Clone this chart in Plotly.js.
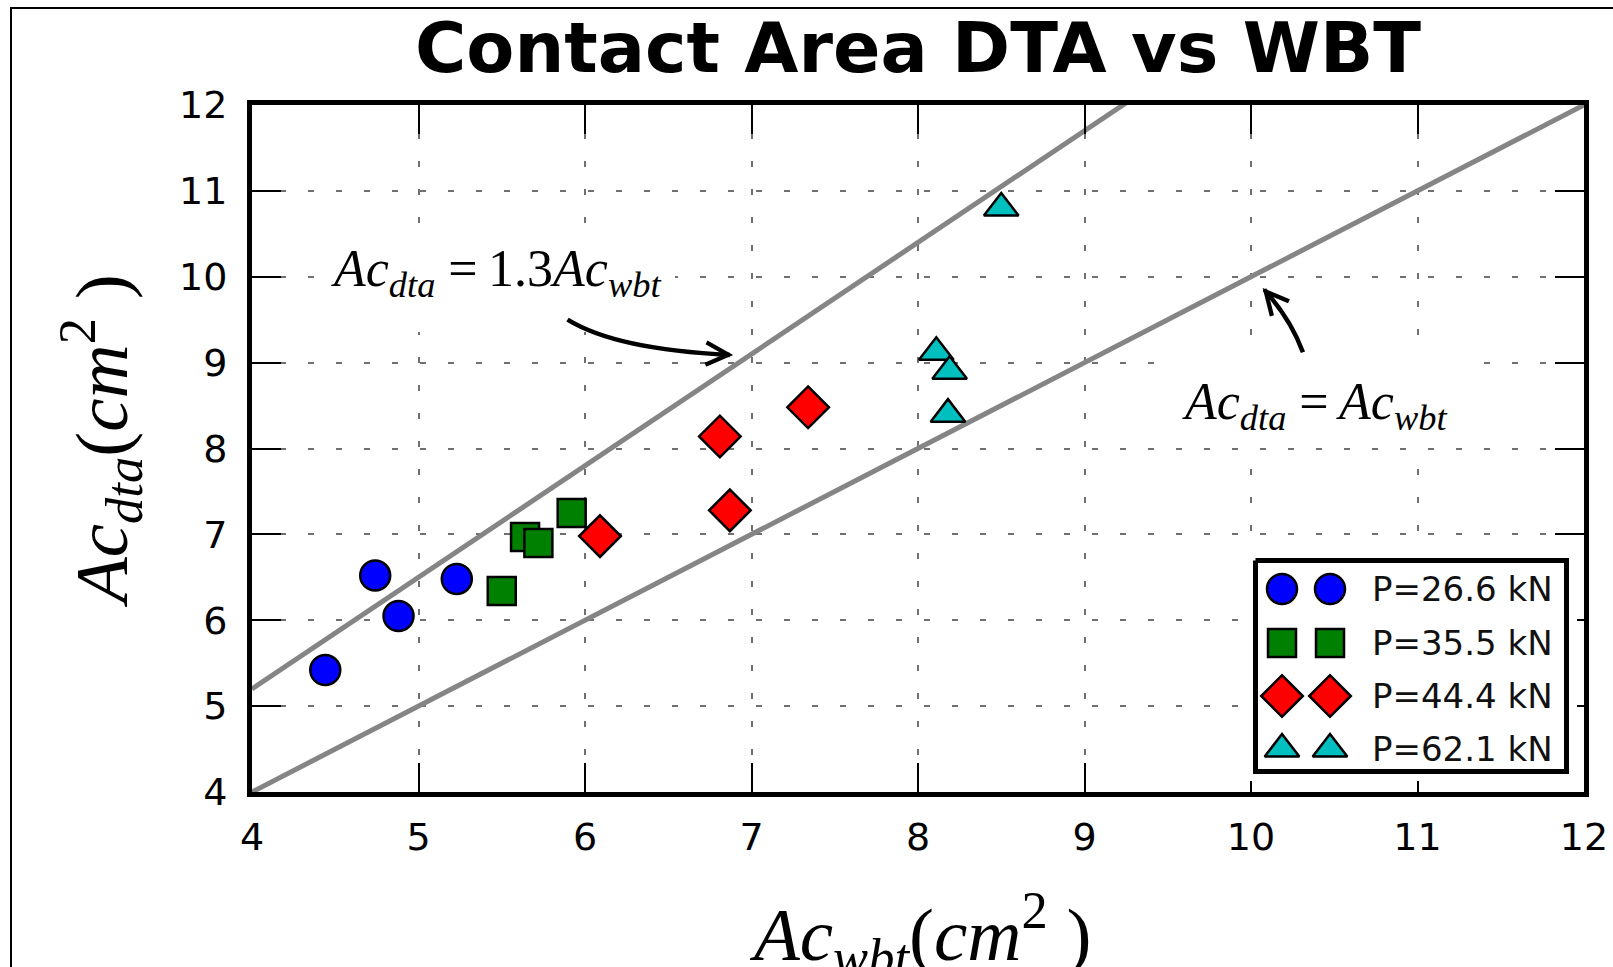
<!DOCTYPE html>
<html>
<head>
<meta charset="utf-8">
<script src="https://cdn.plot.ly/plotly-3.0.1.min.js"></script>
<style>html,body{margin:0;padding:0;background:#fff;}#chart{width:1613px;height:967px;}</style>
</head>
<body>
<div id="chart"></div>
<script>
// ---- data ----
const seriesNames = ["P=26.6 kN", "P=35.5 kN", "P=44.4 kN", "P=62.1 kN"];
const x26 = [4.44, 4.74, 4.88, 5.23];
const y26 = [5.42, 6.52, 6.05, 6.48];
const x35 = [5.50, 5.64, 5.72, 5.92];
const y35 = [6.34, 6.97, 6.90, 7.25];
const x44 = [6.09, 6.81, 6.87, 7.34];
const y44 = [6.98, 8.14, 7.28, 8.48];
const x62 = [8.50, 8.11, 8.19, 8.18];
const y62 = [10.80, 9.12, 8.90, 8.40];
const refSlopes = [1.0, 1.3];
const refX = [4, 12];
const tickVals = [4, 5, 6, 7, 8, 9, 10, 11, 12];

// ---- layout helpers (pixel geometry) ----
const W = 1613, H = 967, L = 252, R = 1584, T = 105, B = 792;
const px = v => (v - L) / (R - L);
const py = v => (B - v) / (B - T);

const colors = ["#0000ff", "#008000", "#ff0000", "#00bfbf"];
const symbols = ["circle", "square", "diamond", "triangle-up"];
const sizes = [30, 28, 32, 30];
const xs = [x26, x35, x44, x62];
const ys = [y26, y35, y44, y62];

const traces = [];
refSlopes.forEach(s => {
  traces.push({
    x: refX, y: refX.map(v => v * s), mode: "lines", type: "scatter",
    line: {color: "#858585", width: 5}, showlegend: false, hoverinfo: "skip"
  });
});
seriesNames.forEach((n, i) => {
  traces.push({
    x: xs[i], y: ys[i], mode: "markers", type: "scatter", name: n, showlegend: false,
    marker: {symbol: symbols[i], size: sizes[i], color: colors[i], line: {color: "#000", width: 2.5}},
    cliponaxis: false
  });
});

// manual legend (two markers per entry, like the original)
const legRows = [589, 643, 696, 749];
const legBox = {x0: 1255.5, x1: 1566.5, y0: 560.5, y1: 771.5};
traces.push({
  x: [legBox.x0, legBox.x1, legBox.x1, legBox.x0, legBox.x0],
  y: [legBox.y0, legBox.y0, legBox.y1, legBox.y1, legBox.y0],
  xaxis: "x2", yaxis: "y2", mode: "lines", fill: "toself", fillcolor: "#fff",
  line: {color: "#000", width: 5}, showlegend: false, hoverinfo: "skip"
});
seriesNames.forEach((n, i) => {
  traces.push({
    x: [1282, 1330], y: [legRows[i], legRows[i]], xaxis: "x2", yaxis: "y2",
    mode: "markers", type: "scatter", showlegend: false, hoverinfo: "skip",
    marker: {symbol: symbols[i], size: sizes[i], color: colors[i], line: {color: "#000", width: 2.5}},
    cliponaxis: false
  });
});

const axisCommon = {
  range: [4, 12], tickvals: tickVals, ticktext: tickVals.map(String),
  showline: true, linecolor: "#000", linewidth: 5, mirror: "ticks",
  ticks: "inside", ticklen: 29, tickwidth: 2, tickcolor: "#000",
  showgrid: true, gridcolor: "#707070", gridwidth: 2, griddash: "6px,22px",
  zeroline: false, tickfont: {family: "DejaVu Sans", size: 38, color: "#000"},
  fixedrange: true
};

const mathFont = {family: "Liberation Serif", color: "#000"};
const annotations = [
  {xref: "paper", yref: "paper", x: px(496), y: py(272), xanchor: "center", yanchor: "middle",
   text: "<i>Ac</i><sub><i>dta</i></sub> =\u20091.3<i>Ac</i><sub><i>wbt</i></sub>",
   showarrow: false, font: Object.assign({size: 52}, mathFont)},
  {xref: "paper", yref: "paper", x: px(1314), y: py(405), xanchor: "center", yanchor: "middle",
   text: "<i>Ac</i><sub><i>dta</i></sub> =\u2009<i>Ac</i><sub><i>wbt</i></sub>",
   showarrow: false, font: Object.assign({size: 52}, mathFont)},
  // arrow heads
  {xref: "x", yref: "y", x: 6.89, y: 9.09, ax: -14, ay: -0.7, text: "", showarrow: true,
   arrowhead: 5, arrowsize: 1.1, arrowwidth: 4, arrowcolor: "#000", standoff: 0},
  {xref: "x", yref: "y", x: 10.07, y: 9.87, ax: 9, ay: 10.5, text: "", showarrow: true,
   arrowhead: 5, arrowsize: 1.1, arrowwidth: 4, arrowcolor: "#000", standoff: 0},
  // axis titles
  {xref: "paper", yref: "paper", x: px(100), y: py(441), xanchor: "center", yanchor: "middle",
   textangle: -90, showarrow: false,
   text: "<i>Ac</i><sub><i>dta</i></sub>(<i>cm</i><sup>2</sup> )",
   font: Object.assign({size: 75}, mathFont)},
  {xref: "paper", yref: "paper", x: px(920), y: py(933), xanchor: "center", yanchor: "middle",
   showarrow: false,
   text: "<i>Ac</i><sub><i>wbt</i></sub>(<i>cm</i><sup>2</sup> )",
   font: Object.assign({size: 75}, mathFont)}
];
seriesNames.forEach((n, i) => {
  annotations.push({xref: "x2", yref: "y2", x: 1370, y: legRows[i], xanchor: "left", yanchor: "middle",
    text: n, showarrow: false, font: {family: "DejaVu Sans", size: 34, color: "#111"}});
});

const shapes = [
  // white boxes behind the equation labels
  {type: "rect", xref: "paper", yref: "paper", x0: px(315), x1: px(675), y0: py(235), y1: py(332),
   fillcolor: "#fff", line: {width: 0}, layer: "above"},
  {type: "rect", xref: "paper", yref: "paper", x0: px(1160), x1: px(1465), y0: py(346), y1: py(447),
   fillcolor: "#fff", line: {width: 0}, layer: "above"},
  // curved arrow shafts
  {type: "path", xref: "x", yref: "y", path: "M5.895,9.50 Q6.19,9.15 6.87,9.09",
   line: {color: "#000", width: 4.5}, layer: "above"},
  {type: "path", xref: "x", yref: "y", path: "M10.312,9.12 Q10.24,9.50 10.08,9.85",
   line: {color: "#000", width: 4.5}, layer: "above"},
  // figure frame (left and top edges)
  {type: "path", xref: "paper", yref: "paper",
   path: "M" + px(11) + "," + py(990) + " L" + px(11) + "," + py(8) + " L" + px(1620) + "," + py(8),
   line: {color: "#000", width: 2}, layer: "above"}
];

const layout = {
  width: W, height: H,
  margin: {l: L, r: W - R, t: T, b: H - B, pad: 0},
  paper_bgcolor: "#fff", plot_bgcolor: "#fff",
  showlegend: false,
  title: {text: "<b>Contact Area DTA vs WBT</b>", font: {family: "DejaVu Sans", size: 70, color: "#000"},
          x: 0.5, xref: "paper", xanchor: "center", y: 1 - 47 / H, yref: "container", yanchor: "middle"},
  xaxis: Object.assign({}, axisCommon, {ticklabelstandoff: 7}),
  yaxis: Object.assign({}, axisCommon, {ticklabelstandoff: 12}),
  xaxis2: {domain: [px(1245), px(1577)], range: [1245, 1577], visible: false, anchor: "y2", fixedrange: true},
  yaxis2: {domain: [py(781), py(550)], range: [781, 550], visible: false, anchor: "x2", fixedrange: true},
  annotations: annotations,
  shapes: shapes
};

Plotly.newPlot("chart", traces, layout, {displayModeBar: false, staticPlot: true});
</script>
</body>
</html>
